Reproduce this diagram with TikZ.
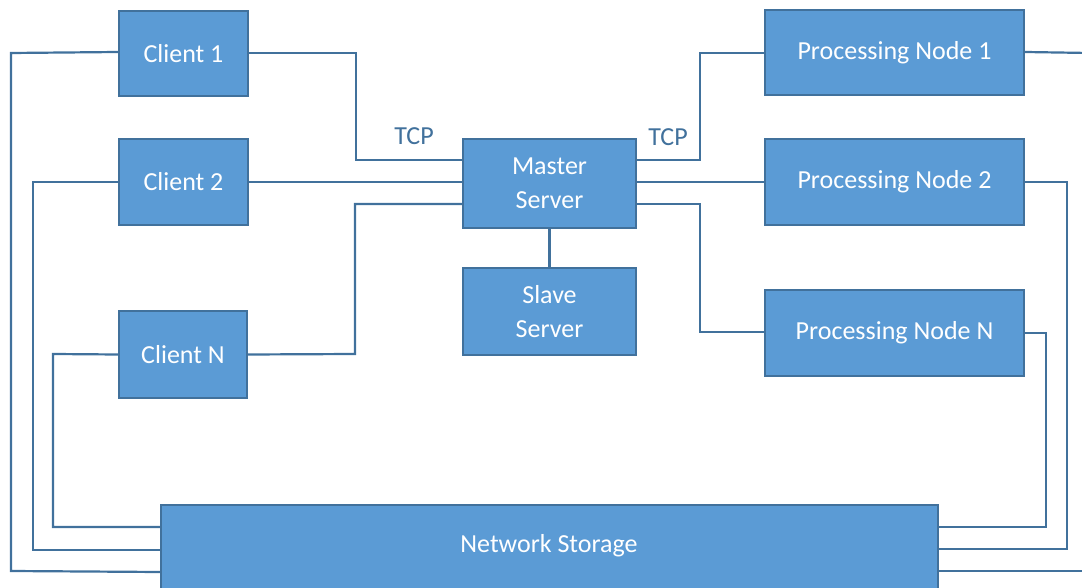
\documentclass[tikz,border=0pt]{standalone}
\usepackage{fontspec}
\setmainfont{Carlito}
\definecolor{boxfill}{HTML}{5B9BD5}
\definecolor{boxline}{HTML}{41719C}
\definecolor{wire}{HTML}{41719C}
\begin{document}
\begin{tikzpicture}[x=1pt,y=-1pt,
  blk/.style={draw=boxline, fill=boxfill, line width=2.2pt, text=white, font=\fontsize{26}{31}\selectfont, align=center, inner sep=0pt},
  wire/.style={draw=wire, line width=2.2pt},
  lbl/.style={text=wire, font=\fontsize{26}{31}\selectfont, inner sep=0pt}]
\useasboundingbox (0,0) rectangle (1082,588);
\clip (0,0) rectangle (1082,588);
% boxes
\node[blk, minimum width=129, minimum height=85] (c1) at (183.5,53.5) {Client 1};
\node[blk, minimum width=129, minimum height=86] (c2) at (183.5,182) {Client 2};
\node[blk, minimum width=128, minimum height=87] (cn) at (183,354.5) {Client N};
\node[blk, minimum width=173, minimum height=89] (ms) at (549.5,183.5) {Master\\[3pt]Server};
\node[blk, minimum width=173, minimum height=87] (ss) at (549.5,311.5) {Slave\\[3pt]Server};
\node[blk, minimum width=259, minimum height=85] (p1) at (894.5,52.5) {Processing Node 1};
\node[blk, minimum width=259, minimum height=86] (p2) at (894.5,182) {Processing Node 2};
\node[blk, minimum width=259, minimum height=86] (pn) at (894.5,333) {Processing Node N};
\node[blk, minimum width=777, minimum height=86] (ns) at (549.5,548) {};
\node[text=white, font=\fontsize{26}{31}\selectfont] (nst) at (549,546) {Network Storage};
% coordinates for free ends
\coordinate (e1) at (1090,53);
\coordinate (e2) at (1090,571);
% connectors client side
\draw[wire] (c1.east |- 0,53) -- (356,53) -- (356,160) -- (ms.west |- 0,160);
\draw[wire] (c2.east) -- (ms.west |- 0,182);
\draw[wire] (cn.east) -- (355,354) -- (355,204) -- (ms.west |- 0,204);
\node[lbl] (t1) at (414,136) {TCP};
% connectors processing side
\draw[wire] (ms.east |- 0,160) -- (700,160) -- (700,53) -- (p1.west |- 0,53);
\draw[wire] (ms.east |- 0,182) -- (p2.west);
\draw[wire] (ms.east |- 0,204) -- (700,204) -- (700,332) -- (pn.west |- 0,332);
\node[lbl] (t2) at (668,137) {TCP};
% master to slave
\draw[wire] (ms.south) -- (ss.north);
% storage links
\draw[wire] (c1.west |- 0,52) -- (11,53) -- (11,571) -- (ns.west |- 0,572);
\draw[wire] (c2.west) -- (33,182) -- (33,550) -- (ns.west |- 0,550);
\draw[wire] (cn.west) -- (53,354) -- (53,527) -- (ns.west |- 0,527);
\draw[wire] (p1.east |- 0,52) -- (e1);
\draw[wire] (p2.east) -- (1067,182) -- (1067,549) -- (ns.east |- 0,549);
\draw[wire] (pn.east) -- (1046,333) -- (1046,527) -- (ns.east |- 0,527);
\draw[wire] (ns.east |- 0,571) -- (e2);
\end{tikzpicture}
\end{document}
